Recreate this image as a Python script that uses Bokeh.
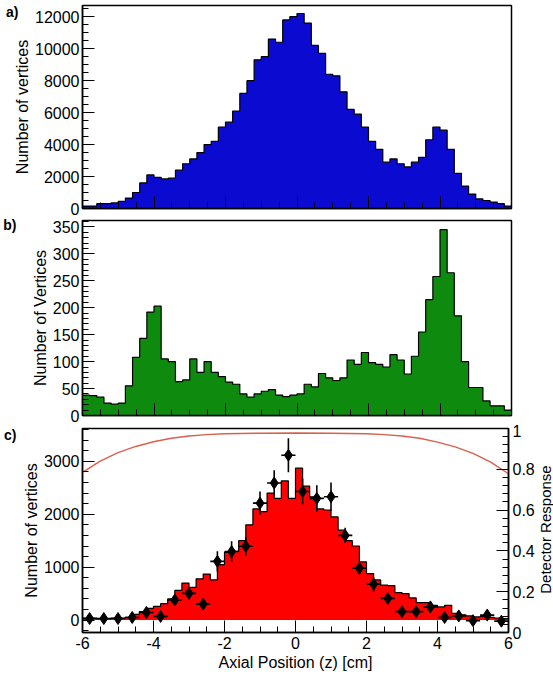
import math
import numpy as np
from bokeh.plotting import figure
from bokeh.layouts import column, row
from bokeh.models import Range1d, LinearAxis, FixedTicker
from bokeh.core.properties import value
from bokeh.embed import file_html
from bokeh.resources import INLINE

# Axial binning: 60 bins of 0.2 cm from -6 to 6 cm
Z_MIN, Z_MAX, N_BINS = -6.0, 6.0, 60

# a) all reconstructed vertices
counts_a = [150, 150, 300, 300, 350, 450, 650, 1000, 1600, 2100,
            1950, 1850, 1900, 2400, 2800, 3100, 3500, 4000, 4200, 5100,
            5400, 6100, 7200, 8000, 9300, 9500, 10600, 10400, 11800, 12000,
            12200, 11600, 10200, 9700, 8400, 8300, 7300, 6200, 5900, 5100,
            4200, 3700, 2900, 3100, 2800, 2600, 2900, 3200, 4300, 5100,
            4900, 3700, 2200, 1400, 900, 600, 500, 400, 300, 150]

# b) selected vertices
counts_b = [38, 37, 34, 23, 21, 23, 55, 108, 143, 192,
            203, 105, 100, 63, 66, 105, 80, 100, 80, 72,
            62, 58, 40, 34, 40, 45, 48, 38, 35, 38,
            40, 58, 53, 78, 70, 65, 70, 103, 95, 117,
            98, 95, 90, 113, 103, 77, 110, 155, 215, 258,
            345, 265, 185, 100, 52, 52, 27, 18, 18, 10]

# c) simulated distribution
counts_c = [40, 40, 30, 30, 40, 40, 50, 110, 160, 220,
            260, 310, 400, 560, 700, 620, 780, 870, 760, 1050,
            1280, 1300, 1500, 1800, 2100, 2050, 2400, 2300, 2630, 2300,
            2870, 2530, 2330, 2100, 2080, 1950, 1700, 1500, 1400, 1100,
            880, 760, 660, 650, 520, 500, 420, 330, 330, 280,
            250, 280, 130, 100, 80, 60, 70, 50, 40, 30]

# c) measured points (0.4 cm bins)
pts_z = [-5.8, -5.4, -5.0, -4.6, -4.2, -3.8, -3.4, -3.0, -2.6, -2.2,
         -1.8, -1.4, -1.0, -0.6, -0.2, 0.2, 0.6, 1.0, 1.4, 1.8,
         2.2, 2.6, 3.0, 3.4, 3.8, 4.2, 4.6, 5.0, 5.4, 5.8]
pts_n = [30, 30, 30, 50, 145, 70, 380, 505, 303, 1110,
         1295, 1396, 2210, 2590, 3115, 2430, 2300, 2330, 1600, 980,
         680, 410, 160, 160, 250, 50, 80, -10, 95, -20]
pts_err = [60, 60, 60, 60, 70, 60, 90, 100, 90, 190,
           196, 175, 220, 240, 320, 240, 250, 270, 145, 110,
           140, 100, 70, 70, 80, 60, 60, 60, 60, 60]
pts_halfwidth = 0.2

# c) detector response (right axis)
resp_z = [-6.0, -5.5, -5.0, -4.5, -4.0, -3.5, -3.0, -2.5, -2.0, -1.0, 0.0,
          1.0, 2.0, 2.5, 3.0, 3.5, 4.0, 4.5, 5.0, 5.5, 6.0]
resp_val = [0.785, 0.84, 0.882, 0.912, 0.935, 0.952, 0.963, 0.970, 0.974, 0.977, 0.978,
            0.977, 0.974, 0.970, 0.963, 0.952, 0.933, 0.91, 0.878, 0.835, 0.778]

FONT = "Liberation Sans"
W = 553
FRAME_L, FRAME_R = 82, 42
SIDE_W = 16  # strip to the right of panel c holding the right-axis title

edges = np.linspace(Z_MIN, Z_MAX, N_BINS + 1)
x_major = [-6, -4, -2, 0, 2, 4, 6]
x_minor = list(np.arange(-6, 6.01, 0.5))


def style_axis(ax, major, minor, show_labels=True):
    ax.ticker = FixedTicker(ticks=major, minor_ticks=minor)
    ax.major_tick_in = 12
    ax.major_tick_out = 0
    ax.minor_tick_in = 6
    ax.minor_tick_out = 0
    ax.axis_line_color = "black"
    ax.axis_line_width = 1.5
    ax.major_tick_line_color = "black"
    ax.minor_tick_line_color = "black"
    ax.major_label_text_font = FONT
    ax.major_label_text_color = "black"
    ax.axis_label_text_font = FONT
    ax.axis_label_text_font_style = "normal"
    ax.axis_label_text_color = "black"
    ax.axis_label_text_font_size = "16px"
    if show_labels:
        ax.major_label_text_font_size = "16px"
        ax.major_label_standoff = 3
        ax.axis_label_standoff = 1
    else:
        ax.major_label_text_font_size = "0px"
        ax.major_label_standoff = 0
        ax.major_label_overrides = {t: "" for t in major}


def panel_tag(p, text, standoff, line_height):
    # small "a)", "b)", "c)" tag at the upper left, just below the frame top
    tag = LinearAxis(ticker=FixedTicker(ticks=[]), axis_line_color=None,
                     major_tick_line_color=None, minor_tick_line_color=None,
                     major_label_text_font_size="0px", major_label_standoff=0,
                     major_tick_in=0, major_tick_out=0,
                     axis_label="\n" + text, axis_label_orientation="horizontal",
                     axis_label_align="end", axis_label_standoff=standoff,
                     axis_label_text_line_height=line_height,
                     axis_label_text_font=FONT, axis_label_text_font_size="14px",
                     axis_label_text_font_style="bold", axis_label_text_color="black")
    p.add_layout(tag, "left")


def make_fig(height, yr, top, bottom, width=W, right=FRAME_R):
    p = figure(width=width, height=height, x_range=Range1d(Z_MIN, Z_MAX),
               y_range=Range1d(*yr), output_backend="svg", toolbar_location=None,
               min_border_left=FRAME_L, min_border_right=right,
               min_border_top=top, min_border_bottom=bottom)
    p.grid.visible = False
    p.outline_line_color = "black"
    p.outline_line_width = 1.5
    p.background_fill_color = "white"
    p.border_fill_color = "white"
    return p


def histogram(p, counts, fill):
    y = list(counts) + [counts[-1]]
    p.varea_step(x=edges, y1=0, y2=y, step_mode="after", fill_color=fill)
    p.step(x=edges, y=y, mode="after", line_color="black", line_width=1.2)


# ---- a) ----
pa = make_fig(217, (0, 12700), 5, 9)
histogram(pa, counts_a, "#0a0ad0")
style_axis(pa.xaxis[0], x_major, x_minor, show_labels=False)
style_axis(pa.yaxis[0], list(range(0, 12001, 2000)), list(range(0, 12701, 500)))
pa.yaxis[0].axis_label = "Number of vertices"
panel_tag(pa, "a)", -7, 0.75)

# ---- b) ----
pb = make_fig(207, (0, 362), 3, 9)
histogram(pb, counts_b, "#0e8a0e")
style_axis(pb.xaxis[0], x_major, x_minor, show_labels=False)
style_axis(pb.yaxis[0], list(range(0, 351, 50)), list(range(0, 361, 10)))
pb.yaxis[0].axis_label = "Number of Vertices"
panel_tag(pb, "b)", 12, 0.55)

# ---- c) ----
pc = make_fig(251, (-234, 3620), 4, 43, width=W - SIDE_W, right=FRAME_R - SIDE_W)
histogram(pc, counts_c, "#ff0000")
pc.extra_y_ranges = {"resp": Range1d(0, 1)}
pc.line(resp_z, resp_val, y_range_name="resp", line_color="#d8604e", line_width=1.4)

lo = [n - e for n, e in zip(pts_n, pts_err)]
hi = [n + e for n, e in zip(pts_n, pts_err)]
pc.segment(x0=pts_z, y0=lo, x1=pts_z, y1=hi, line_color="black", line_width=1.6)
pc.segment(x0=[z - pts_halfwidth for z in pts_z], y0=pts_n,
           x1=[z + pts_halfwidth for z in pts_z], y1=pts_n, line_color="black", line_width=1.6)
pc.scatter(pts_z, pts_n, marker="diamond", size=12, color="black")

style_axis(pc.xaxis[0], x_major, x_minor)
pc.xaxis[0].axis_label = "Axial Position (z) [cm]"
pc.xaxis[0].major_label_standoff = 4
pc.xaxis[0].axis_label_standoff = 2
pc.xaxis[0].major_label_overrides = {-6: "-6", -4: "-4", -2: "-2"}
style_axis(pc.yaxis[0], [0, 1000, 2000, 3000], list(range(-200, 3601, 200)))
pc.yaxis[0].axis_label = "Number of vertices"
panel_tag(pc, "c)", 3, 0.75)

r_ax = LinearAxis(y_range_name="resp")
style_axis(r_ax, [0, 0.2, 0.4, 0.6, 0.8, 1.0], list(np.arange(0, 1.001, 0.04)))
r_ax.major_label_overrides = {0: "0", 1: "1"}
r_ax.major_label_standoff = 4
pc.add_layout(r_ax, "right")

# right-axis title, in a thin strip sharing panel c's vertical scale
side = figure(width=SIDE_W, height=251, x_range=Range1d(0, SIDE_W), y_range=pc.y_range,
              x_axis_type=None, y_axis_type=None, output_backend="svg",
              toolbar_location=None, min_border_left=0, min_border_right=0,
              min_border_top=4, min_border_bottom=43)
side.grid.visible = False
side.outline_line_color = None
side.text(x=[7.6], y=[1711], text=["Detector Response"], angle=math.pi / 2,
          text_align="center", text_baseline="middle", text_font=value(FONT),
          text_font_size=value("15px"), text_color="black")

layout = column(pa, pb, row(pc, side))
open("out.html", "w").write(file_html(layout, INLINE))
